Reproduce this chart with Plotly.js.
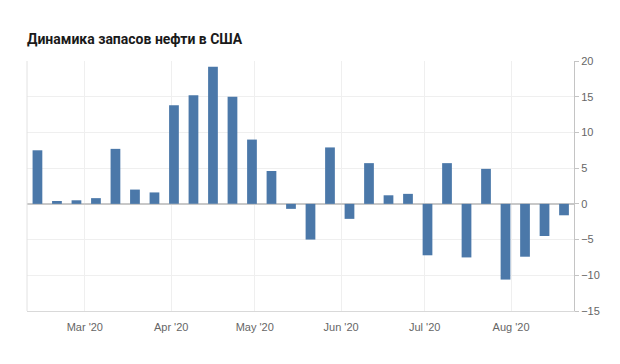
<!DOCTYPE html>
<html>
<head>
<meta charset="utf-8">
<script src="https://cdn.plot.ly/plotly-3.0.1.min.js"></script>
<style>html,body{margin:0;padding:0;background:#fff;}#chart{width:620px;height:364px;}</style>
</head>
<body>
<div id="chart"></div>
<script>
const chartTitle = "Динамика запасов нефти в США";
const weeks = [
  "2020-02-13","2020-02-20","2020-02-27","2020-03-05","2020-03-12","2020-03-19","2020-03-26",
  "2020-04-02","2020-04-09","2020-04-16","2020-04-23","2020-04-30","2020-05-07","2020-05-14",
  "2020-05-21","2020-05-28","2020-06-04","2020-06-11","2020-06-18","2020-06-25","2020-07-02",
  "2020-07-09","2020-07-16","2020-07-23","2020-07-30","2020-08-06","2020-08-13","2020-08-20"
];
const stockChange = [
  7.5, 0.4, 0.5, 0.8, 7.7, 2.0, 1.6,
  13.8, 15.2, 19.2, 15.0, 9.0, 4.6, -0.7,
  -5.0, 7.9, -2.1, 5.7, 1.2, 1.4, -7.2,
  5.7, -7.5, 4.9, -10.6, -7.4, -4.5, -1.6
];
const yTicks = [-15, -10, -5, 0, 5, 10, 15, 20];

Plotly.newPlot("chart", [{
  type: "bar",
  x: weeks,
  y: stockChange,
  marker: {color: "#4b78a9"},
  hoverinfo: "x+y"
}], {
  width: 620, height: 364,
  margin: {l: 27, r: 46, t: 61, b: 53},
  paper_bgcolor: "#fff", plot_bgcolor: "#fff",
  showlegend: false,
  bargap: 0.5,
  title: {
    text: chartTitle,
    x: 0, xref: "paper", xanchor: "left",
    y: 1, yref: "container", yanchor: "top", pad: {t: 34},
    font: {family: "Roboto, Arial, sans-serif", size: 14, color: "#1a1a1a", weight: "bold"}
  },
  xaxis: {
    type: "date",
    range: ["2020-02-09 06:00", "2020-08-23 14:00"],
    tick0: "2020-03-01", dtick: "M1",
    tickformat: "%b '%y",
    showgrid: true, gridcolor: "#efefef", gridwidth: 1,
    showline: true, linecolor: "#d9d9d9", linewidth: 1,
    ticks: "outside", ticklen: 6, tickcolor: "rgba(0,0,0,0)",
    tickfont: {family: "Liberation Sans, Arial, sans-serif", size: 11, color: "#666"},
    zeroline: false, fixedrange: true
  },
  yaxis: {
    side: "right",
    range: [-15, 20],
    tickvals: yTicks,
    showgrid: true, gridcolor: "#efefef", gridwidth: 1,
    zeroline: true, zerolinecolor: "#c8c8c8", zerolinewidth: 1.5,
    showline: true, linecolor: "#c4c4c4", linewidth: 1,
    ticks: "outside", ticklen: 4, tickcolor: "#c4c4c4",
    tickfont: {family: "Liberation Sans, Arial, sans-serif", size: 11, color: "#666"},
    fixedrange: true
  },
  shapes: [{
    type: "line", xref: "paper", yref: "paper",
    x0: 0, x1: 0, y0: 0, y1: 1,
    line: {color: "#e2e2e2", width: 1}
  }]
}, {displayModeBar: false, staticPlot: true});
</script>
</body>
</html>
